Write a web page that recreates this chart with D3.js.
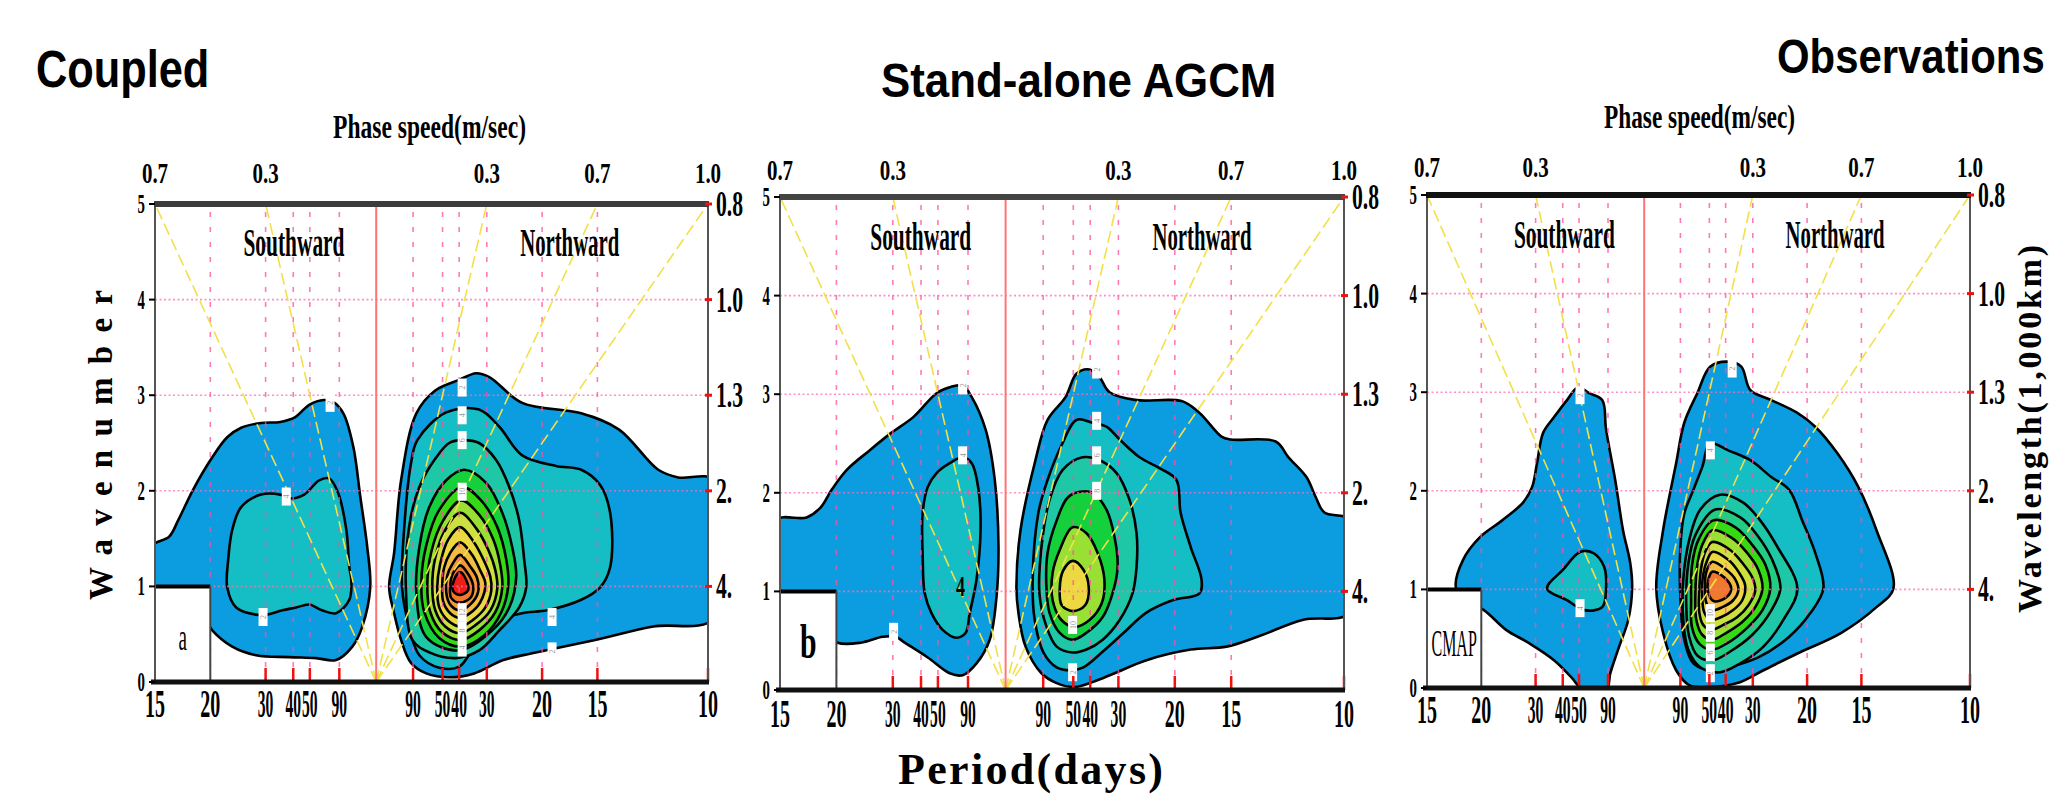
<!DOCTYPE html>
<html><head><meta charset="utf-8">
<script src="https://cdn.jsdelivr.net/npm/d3@7"></script>
<style>body{margin:0;background:#fff}svg{display:block}</style>
</head><body>
<svg id="chart" width="2061" height="794"></svg>
<script>
// ---------------- DATA ----------------
// axis ticks (periods in days; negative side = southward)
const periodsS = [15,20,30,40,50,90];
const periodsN = [90,50,40,30,20,15,10];
const gridS = [20,30,40,50,90];
const gridN = [90,50,40,30,20,15];
const redTickS = [30,40,50,90];
const redTickN = [90,50,40,30,20,15,10];
const phasePeriods = [-15,-30,30,15,10];
const phaseLabels = ["0.7","0.3","0.3","0.7","1.0"];
const kTicks = [0,1,2,3,4,5];
const wavelengthK = [1,2,3,4,5];
const wavelengthLabels = ["4.","2.","1.3","1.0","0.8"];

// contour polygons: [frequency (cpd, <0 southward), wavenumber]
// Panel a (Coupled)
const aS1 = [[-0.068,1.41],[-0.0624,1.52],[-0.0597,1.69],[-0.0552,2.01],[-0.0494,2.35],[-0.0449,2.56],[-0.0407,2.66],[-0.0347,2.71],[-0.0289,2.72],[-0.0244,2.77],[-0.0202,2.90],[-0.0157,2.95],[-0.0130,2.93],[-0.0099,2.81],[-0.0069,2.46],[-0.0048,1.94],[-0.0027,1.41],[-0.0018,0.99],[-0.0042,0.58],[-0.0072,0.37],[-0.0121,0.23],[-0.0181,0.25],[-0.0262,0.26],[-0.0362,0.28],[-0.0434,0.37],[-0.0494,0.54],[-0.0533,0.75],[-0.068,0.86]];
const aS2 = [[-0.0449,0.99],[-0.0446,1.28],[-0.0434,1.59],[-0.0407,1.83],[-0.0347,1.96],[-0.0289,1.96],[-0.0259,1.92],[-0.0217,1.96],[-0.0172,2.11],[-0.0142,2.13],[-0.0115,1.98],[-0.0090,1.59],[-0.0081,1.20],[-0.0075,1.07],[-0.0081,0.86],[-0.0121,0.72],[-0.0163,0.75],[-0.0202,0.81],[-0.0241,0.78],[-0.0283,0.75],[-0.0344,0.70],[-0.0422,0.78]];
const aN1 = [[0.0250,3.16],[0.0301,3.23],[0.0341,3.19],[0.0440,2.92],[0.0618,2.81],[0.0732,2.64],[0.0850,2.22],[0.0910,2.14],[0.102,2.11],[0.102,0.67],[0.0835,0.58],[0.0660,0.44],[0.0470,0.30],[0.0383,0.23],[0.0295,0.09],[0.0223,0.05],[0.0151,0.09],[0.0105,0.20],[0.0075,0.44],[0.0054,0.72],[0.0039,0.99],[0.0054,1.35],[0.0075,2.11],[0.0121,2.81],[0.0178,3.05]];
const aN2 = [[0.0124,2.53],[0.0211,2.82],[0.0310,2.85],[0.0371,2.67],[0.0440,2.37],[0.0542,2.26],[0.0618,2.22],[0.0675,2.06],[0.0705,1.77],[0.0705,1.20],[0.0675,0.99],[0.0618,0.86],[0.0515,0.75],[0.0440,0.72],[0.0353,0.62],[0.0295,0.37],[0.0250,0.16],[0.0190,0.15],[0.0130,0.28],[0.0099,0.58],[0.0078,0.99],[0.0084,1.59],[0.0105,2.29]];
const aN3 = [[0.0259,2.53],[0.0310,2.50],[0.0362,2.32],[0.0401,2.04],[0.0431,1.69],[0.0446,1.28],[0.0452,0.99],[0.0431,0.78],[0.0371,0.54],[0.0310,0.33],[0.0241,0.25],[0.0160,0.31],[0.0109,0.44],[0.0090,0.93],[0.0099,1.62],[0.0130,2.04],[0.0181,2.35],[0.0220,2.50]];
const aN4 = [[0.0265,2.22],[0.0332,2.08],[0.0380,1.77],[0.0410,1.41],[0.0422,1.10],[0.0401,0.78],[0.0350,0.54],[0.0250,0.33],[0.0151,0.47],[0.0121,0.93],[0.0130,1.41],[0.0160,1.83],[0.0211,2.11]];
const aN5 = [[0.0259,2.04],[0.0316,1.90],[0.0365,1.62],[0.0392,1.28],[0.0398,1.01],[0.0377,0.73],[0.0326,0.49],[0.0256,0.37],[0.0190,0.46],[0.0145,0.73],[0.0136,1.04],[0.0151,1.43],[0.0190,1.80]];
const aN6 = [[0.0256,1.90],[0.0310,1.75],[0.0353,1.49],[0.0374,1.22],[0.0380,0.99],[0.0359,0.73],[0.0310,0.54],[0.0256,0.44],[0.0199,0.52],[0.0163,0.73],[0.0154,1.01],[0.0166,1.36],[0.0202,1.69]];
const aN7 = [[0.0253,1.77],[0.0301,1.61],[0.0338,1.38],[0.0359,1.17],[0.0365,0.98],[0.0344,0.75],[0.0301,0.60],[0.0253,0.51],[0.0208,0.58],[0.0178,0.75],[0.0169,0.99],[0.0178,1.30],[0.0208,1.59]];
const aN8 = [[0.0253,1.62],[0.0295,1.46],[0.0326,1.26],[0.0344,1.10],[0.0347,0.96],[0.0329,0.78],[0.0292,0.65],[0.0253,0.58],[0.0217,0.64],[0.0190,0.78],[0.0184,0.99],[0.0193,1.24],[0.0217,1.49]];
const aN9 = [[0.0253,1.46],[0.0289,1.33],[0.0313,1.17],[0.0329,1.03],[0.0313,0.83],[0.0283,0.72],[0.0253,0.67],[0.0223,0.72],[0.0202,0.84],[0.0199,1.01],[0.0205,1.20],[0.0223,1.35]];
const aN10 = [[0.0253,1.33],[0.0283,1.21],[0.0304,1.09],[0.0307,0.94],[0.0286,0.82],[0.0253,0.75],[0.0223,0.81],[0.0211,0.94],[0.0214,1.11],[0.0229,1.23]];
const aN11 = [[0.0253,1.22],[0.0277,1.13],[0.0292,1.01],[0.0286,0.89],[0.0253,0.83],[0.0226,0.88],[0.0223,1.01],[0.0232,1.14]];
const aN12 = [[0.0253,1.15],[0.0271,1.07],[0.0277,0.96],[0.0253,0.91],[0.0232,0.95],[0.0235,1.07]];

// Panel b (Stand-alone AGCM)
const bS1 = [[-0.068,1.72],[-0.0588,1.75],[-0.0547,1.85],[-0.0514,2.03],[-0.0470,2.23],[-0.0402,2.43],[-0.0337,2.61],[-0.0272,2.77],[-0.0204,3.01],[-0.0165,3.07],[-0.0127,3.09],[-0.0100,2.97],[-0.0059,2.64],[-0.0032,2.13],[-0.0021,1.45],[-0.0027,0.94],[-0.0047,0.51],[-0.0086,0.27],[-0.0127,0.15],[-0.0165,0.17],[-0.0230,0.33],[-0.0298,0.48],[-0.0325,0.54],[-0.0363,0.54],[-0.0428,0.48],[-0.0496,0.48],[-0.0535,0.61],[-0.068,0.81]];
const bS2 = [[-0.0127,2.36],[-0.0165,2.30],[-0.0204,2.20],[-0.0230,2.06],[-0.0245,1.80],[-0.0245,1.35],[-0.0239,0.98],[-0.0219,0.78],[-0.0186,0.61],[-0.0145,0.53],[-0.0118,0.58],[-0.0106,0.78],[-0.0086,1.12],[-0.0074,1.62],[-0.0080,2.03],[-0.0100,2.30]];
const bN1 = [[0.0177,2.97],[0.0210,3.21],[0.0248,3.25],[0.0278,3.17],[0.0307,3.02],[0.0387,2.94],[0.0520,2.93],[0.0573,2.81],[0.0638,2.57],[0.0665,2.54],[0.0798,2.52],[0.0836,2.36],[0.0889,2.16],[0.0916,1.96],[0.0942,1.80],[0.102,1.72],[0.102,0.79],[0.0877,0.71],[0.0744,0.54],[0.0653,0.44],[0.0547,0.41],[0.0414,0.30],[0.0322,0.17],[0.0257,0.08],[0.0204,0.03],[0.0151,0.07],[0.0106,0.17],[0.0059,0.44],[0.0038,0.78],[0.0032,1.04],[0.0044,1.62],[0.0086,2.30],[0.0124,2.74]];
const bN2 = [[0.0165,2.48],[0.0210,2.74],[0.0257,2.71],[0.0298,2.67],[0.0337,2.54],[0.0396,2.36],[0.0455,2.25],[0.0505,2.13],[0.0517,1.80],[0.0547,1.45],[0.0579,1.12],[0.0573,0.98],[0.0493,0.91],[0.0414,0.78],[0.0349,0.58],[0.0284,0.38],[0.0230,0.23],[0.0192,0.20],[0.0151,0.23],[0.0112,0.38],[0.0086,0.71],[0.0080,1.12],[0.0097,1.80],[0.0124,2.13]];
const bN3 = [[0.0227,2.36],[0.0278,2.33],[0.0328,2.20],[0.0366,1.93],[0.0387,1.59],[0.0387,1.25],[0.0375,0.98],[0.0337,0.71],[0.0287,0.51],[0.0239,0.41],[0.0198,0.38],[0.0151,0.44],[0.0121,0.64],[0.0100,0.98],[0.0106,1.45],[0.0130,1.93],[0.0168,2.23]];
const bN4 = [[0.0219,2.01],[0.0257,2.00],[0.0298,1.83],[0.0322,1.55],[0.0331,1.25],[0.0316,0.98],[0.0287,0.74],[0.0239,0.58],[0.0198,0.51],[0.0160,0.58],[0.0130,0.78],[0.0121,1.01],[0.0124,1.39],[0.0151,1.72],[0.0183,1.95]];
const bN5 = [[0.0198,1.65],[0.0239,1.59],[0.0272,1.39],[0.0292,1.12],[0.0284,0.88],[0.0248,0.71],[0.0204,0.64],[0.0165,0.71],[0.0139,0.91],[0.0139,1.19],[0.0160,1.42]];
const bN6 = [[0.0198,1.31],[0.0230,1.22],[0.0246,1.03],[0.0235,0.86],[0.0200,0.80],[0.0166,0.86],[0.0160,1.03],[0.0170,1.21]];

// Panel c (Observations, CMAP)
const cS1 = [[-0.0203,3.05],[-0.0169,2.99],[-0.0129,2.92],[-0.0117,2.62],[-0.0089,2.11],[-0.0065,1.60],[-0.0043,1.27],[-0.0037,1.02],[-0.0049,0.69],[-0.0077,0.42],[-0.0104,0.15],[-0.0117,-0.03],[-0.0184,-0.03],[-0.0224,0.11],[-0.0276,0.28],[-0.0356,0.46],[-0.0424,0.59],[-0.0492,0.79],[-0.0550,0.89],[-0.0578,1.02],[-0.0556,1.30],[-0.0504,1.53],[-0.0436,1.70],[-0.0372,1.88],[-0.0344,2.04],[-0.0329,2.28],[-0.0310,2.59],[-0.0276,2.75],[-0.0237,2.92]];
const cS2 = [[-0.0298,1.01],[-0.0249,1.20],[-0.0197,1.38],[-0.0157,1.37],[-0.0123,1.23],[-0.0117,1.02],[-0.0129,0.82],[-0.0184,0.79],[-0.0237,0.89]];
const cN1 = [[0.0203,3.26],[0.0258,3.31],[0.0298,3.26],[0.0326,3.02],[0.0390,2.92],[0.0470,2.79],[0.0525,2.65],[0.0593,2.38],[0.0657,2.04],[0.0713,1.60],[0.0765,1.01],[0.0713,0.82],[0.0605,0.56],[0.0470,0.35],[0.0366,0.18],[0.0286,0.05],[0.0203,0.01],[0.0138,0.03],[0.0098,0.18],[0.0058,0.56],[0.0037,1.02],[0.0058,1.60],[0.0098,2.28],[0.0123,2.69],[0.0163,2.99]];
const cN2 = [[0.0203,2.48],[0.0258,2.41],[0.0326,2.31],[0.0390,2.14],[0.0445,2.01],[0.0485,1.70],[0.0525,1.37],[0.0550,1.01],[0.0510,0.76],[0.0445,0.52],[0.0350,0.31],[0.0258,0.21],[0.0203,0.18],[0.0151,0.25],[0.0123,0.49],[0.0111,0.92],[0.0111,1.43],[0.0123,1.77],[0.0151,2.01],[0.0178,2.24]];
const cN3 = [[0.0233,1.96],[0.0304,1.88],[0.0356,1.70],[0.0409,1.43],[0.0470,1.01],[0.0427,0.69],[0.0366,0.42],[0.0295,0.25],[0.0233,0.16],[0.0172,0.21],[0.0135,0.39],[0.0120,0.69],[0.0120,1.10],[0.0138,1.50],[0.0172,1.81]];
const cN4 = [[0.0218,1.81],[0.0295,1.73],[0.0347,1.55],[0.0393,1.30],[0.0418,1.01],[0.0387,0.77],[0.0332,0.54],[0.0264,0.37],[0.0209,0.28],[0.0163,0.33],[0.0138,0.52],[0.0129,0.84],[0.0135,1.25],[0.0157,1.55]];
const cN5 = [[0.0212,1.70],[0.0280,1.63],[0.0332,1.45],[0.0372,1.25],[0.0387,1.01],[0.0363,0.79],[0.0316,0.61],[0.0258,0.46],[0.0209,0.39],[0.0172,0.44],[0.0147,0.61],[0.0144,0.89],[0.0147,1.25],[0.0166,1.50]];
const cN6 = [[0.0209,1.60],[0.0270,1.52],[0.0316,1.37],[0.0350,1.20],[0.0363,1.01],[0.0341,0.82],[0.0301,0.67],[0.0252,0.56],[0.0209,0.49],[0.0178,0.54],[0.0160,0.69],[0.0157,0.94],[0.0163,1.25],[0.0178,1.45]];
const cN7 = [[0.0209,1.48],[0.0264,1.40],[0.0301,1.27],[0.0332,1.12],[0.0341,0.99],[0.0320,0.84],[0.0286,0.72],[0.0243,0.64],[0.0206,0.59],[0.0181,0.64],[0.0169,0.77],[0.0169,0.99],[0.0175,1.22],[0.0187,1.38]];
const cN8 = [[0.0209,1.38],[0.0258,1.30],[0.0289,1.18],[0.0310,1.04],[0.0301,0.89],[0.0273,0.79],[0.0237,0.72],[0.0203,0.69],[0.0184,0.77],[0.0178,0.94],[0.0181,1.15],[0.0194,1.30]];
const cN9 = [[0.0209,1.28],[0.0252,1.20],[0.0280,1.10],[0.0289,0.99],[0.0273,0.89],[0.0240,0.82],[0.0206,0.79],[0.0190,0.87],[0.0187,1.01],[0.0190,1.17]];
const cN10 = [[0.0209,1.18],[0.0246,1.12],[0.0267,1.01],[0.0252,0.92],[0.0215,0.88],[0.0197,0.96],[0.0197,1.10]];

// contour label boxes [freq, wavenumber, text]
const aLabels = [[0.0259,3.08,"2"],[0.0259,2.79,"4"],[0.0259,2.53,"6"],[0.0259,1.99,"10"],[0.0259,0.73,"12"],[0.0259,0.54,"8"],[0.0259,0.36,"4"],[-0.0271,1.94,"4"],[-0.0341,0.68,"2"],[-0.0139,2.92,"2"],[0.0530,0.68,"4"],[0.0530,0.32,"2"]];
const bLabels = [[0.0269,3.25,"2"],[0.0269,2.73,"4"],[0.0269,2.38,"6"],[0.0269,2.02,"8"],[0.0198,0.66,"10"],[0.0198,0.18,"2"],[-0.0127,2.38,"4"],[-0.0331,0.59,"2"],[-0.0127,3.09,"2"]];
const cLabels = [[0.0270,3.24,"2"],[0.0203,2.41,"4"],[0.0203,0.76,"10"],[0.0203,0.56,"8"],[0.0203,0.36,"6"],[0.0203,0.15,"2"],[-0.0197,2.97,"2"],[-0.0197,0.81,"4"]];

// colours of the shaded levels
const C = {blue:"#0c9de0", teal:"#14bec4", tgreen:"#1ec8a6", sgreen:"#22cc82", green:"#14d03c",
  bgreen:"#36da14", ygreen:"#9ae034", lyg:"#cce040", yellow:"#ecd840", yorange:"#f2bc40",
  orange:"#f29a36", dorange:"#f07a2c", red:"#ee2016"};

// ---------------- DRAWING ----------------
const svg = d3.select("#chart");
const SERIF = "'Liberation Serif','Times New Roman',serif";
const SANS = "'Liberation Sans',Arial,sans-serif";
svg.append("rect").attr("width",2061).attr("height",794).attr("fill","#fff");

function sText(g, x, y, s, size, sx, anchor, weight, fam) {
  return g.append("text").attr("transform",`translate(${x},${y}) scale(${sx},1)`)
    .attr("text-anchor",anchor).attr("font-family",fam||SERIF).attr("font-size",size)
    .attr("font-weight",weight||"bold").attr("fill","#000").text(s);
}
function lText(g, x, y, s, size, len, fam, weight, adj) {
  return g.append("text").attr("x",x).attr("y",y).attr("font-family",fam).attr("font-size",size)
    .attr("font-weight",weight).attr("textLength",len).attr("lengthAdjust",adj||"spacingAndGlyphs")
    .attr("fill","#000").text(s);
}
const narrow = new Set([30,40,50,90]);

const panels = [
  {id:"a", x0:155, x1:708, y0:682, y1:204, topGap:21, botGap:35,
   south:[[aS1,C.blue],[aS2,C.teal]],
   north:[[aN1,C.blue],[aN2,C.teal],[aN3,C.tgreen],[aN4,C.green],[aN5,C.bgreen],[aN6,C.ygreen],[aN7,C.lyg],[aN8,C.yellow],[aN9,C.yorange],[aN10,C.orange],[aN11,C.dorange],[aN12,C.red]],
   labels:aLabels, inset:"a", insetSize:38, insetSx:0.5, insetW:"normal", topColor:"#3c3c3c"},
  {id:"b", x0:780, x1:1344, y0:690, y1:197, topGap:17, botGap:37,
   south:[[bS1,C.blue],[bS2,C.teal]],
   north:[[bN1,C.blue],[bN2,C.teal],[bN3,C.tgreen],[bN4,C.green],[bN5,C.ygreen],[bN6,C.yellow]],
   labels:bLabels, inset:"b", insetSize:48, insetSx:0.62, insetW:"bold", topColor:"#444"},
  {id:"c", x0:1427, x1:1970, y0:688, y1:195, topGap:18, botGap:35,
   south:[[cS1,C.blue],[cS2,C.teal]],
   north:[[cN1,C.blue],[cN2,C.teal],[cN3,C.tgreen],[cN4,C.sgreen],[cN5,C.bgreen],[cN6,C.ygreen],[cN7,C.lyg],[cN8,C.yellow],[cN9,C.yorange],[cN10,C.dorange]],
   labels:cLabels, inset:"CMAP", insetSize:38, insetSx:0.42, insetW:"normal", topColor:"#111"}
];

const defs = svg.append("defs");

panels.forEach(p => {
  const g = svg.append("g");
  const x = d3.scaleLinear().domain([-1/15, 1/10]).range([p.x0, p.x1]);
  const y = d3.scaleLinear().domain([0, 5]).range([p.y0, p.y1]);
  defs.append("clipPath").attr("id","clip"+p.id).append("rect")
    .attr("x",p.x0).attr("y",p.y1).attr("width",p.x1-p.x0).attr("height",p.y0-p.y1);
  const plot = g.append("g").attr("clip-path",`url(#clip${p.id})`);
  const line = d3.line().x(d=>x(d[0])).y(d=>y(d[1])).curve(d3.curveCatmullRomClosed.alpha(0.5));

  // filled contours
  [p.south, p.north].forEach(side => side.forEach(([pts,col]) => {
    plot.append("path").attr("d", line(pts)).attr("fill", col)
      .attr("stroke","#000").attr("stroke-width",2.6).attr("stroke-linejoin","round");
  }));

  // vertical pink dashed grid
  const vf = gridS.map(d=>-1/d).concat(gridN.map(d=>1/d));
  plot.selectAll(".vg").data(vf).join("line")
    .attr("x1",d=>x(d)).attr("x2",d=>x(d)).attr("y1",y(0)).attr("y2",y(5))
    .attr("stroke","#ff4fa0").attr("stroke-width",1.6).attr("stroke-dasharray","5,10").attr("opacity",0.75);
  // horizontal pink dotted grid
  plot.selectAll(".hg").data([1,2,3,4]).join("line")
    .attr("x1",p.x0).attr("x2",p.x1).attr("y1",d=>y(d)).attr("y2",d=>y(d))
    .attr("stroke","#ff6cb4").attr("stroke-width",1.6).attr("stroke-dasharray","2,2.5").attr("opacity",0.75);
  // phase-speed lines (yellow dashed) from origin
  plot.selectAll(".ph").data(phasePeriods).join("line")
    .attr("x1",x(0)).attr("y1",y(0)).attr("x2",d=>x(1/d)).attr("y2",y(5))
    .attr("stroke","#f2e04a").attr("stroke-width",1.6).attr("stroke-dasharray","12,5");
  // zero-frequency line
  plot.append("line").attr("x1",x(0)).attr("x2",x(0)).attr("y1",y(0)).attr("y2",y(5))
    .attr("stroke","#ff7474").attr("stroke-width",2);

  // contour label boxes
  const lb = plot.selectAll(".lb").data(p.labels).join("g")
    .attr("transform",d=>`translate(${x(d[0])},${y(d[1])})`);
  lb.append("rect").attr("x",-4.5).attr("y",-9).attr("width",9).attr("height",18).attr("fill","#fff");
  lb.append("text").attr("transform","rotate(-90)").attr("text-anchor","middle").attr("dy",3)
    .attr("font-family",SERIF).attr("font-size",8).attr("fill","#999").text(d=>d[2]);

  // bottom red ticks
  const rt = redTickS.map(d=>-1/d).concat(redTickN.map(d=>1/d));
  g.selectAll(".rt").data(rt).join("line")
    .attr("x1",d=>x(d)).attr("x2",d=>x(d)).attr("y1",y(0)).attr("y2",y(0)-14)
    .attr("stroke","#f01010").attr("stroke-width",2.5);

  // inset box
  const ix = x(-1/20);
  g.append("rect").attr("x",p.x0).attr("y",y(1)).attr("width",ix-p.x0).attr("height",y(0)-y(1)).attr("fill","#fff");
  g.append("line").attr("x1",p.x0).attr("x2",ix).attr("y1",y(1)).attr("y2",y(1)).attr("stroke","#000").attr("stroke-width",4);
  g.append("line").attr("x1",ix).attr("x2",ix).attr("y1",y(1)).attr("y2",y(0)).attr("stroke","#444").attr("stroke-width",2);
  sText(g, (p.x0+ix)/2, y(0)-32, p.inset, p.insetSize, p.insetSx, "middle", p.insetW);

  // frame
  g.append("line").attr("x1",p.x0).attr("x2",p.x0).attr("y1",p.y0).attr("y2",p.y1).attr("stroke","#555").attr("stroke-width",2);
  g.append("line").attr("x1",p.x1).attr("x2",p.x1).attr("y1",p.y0).attr("y2",p.y1).attr("stroke","#555").attr("stroke-width",2);
  g.append("line").attr("x1",p.x0-1).attr("x2",p.x1+1).attr("y1",p.y1).attr("y2",p.y1).attr("stroke",p.topColor).attr("stroke-width",6);
  g.append("line").attr("x1",p.x0-4).attr("x2",p.x1+1).attr("y1",p.y0).attr("y2",p.y0).attr("stroke","#111").attr("stroke-width",5);

  // left axis
  g.selectAll(".lt").data(kTicks).join("line")
    .attr("x1",p.x0-6).attr("x2",p.x0).attr("y1",d=>y(d)).attr("y2",d=>y(d)).attr("stroke","#000").attr("stroke-width",2);
  kTicks.forEach(k => sText(g, p.x0-10, y(k)+9, String(k), 27, 0.55, "end"));
  // right axis (wavelength)
  g.selectAll(".rtk").data(wavelengthK).join("line")
    .attr("x1",p.x1-3).attr("x2",p.x1+4).attr("y1",d=>y(d)).attr("y2",d=>y(d)).attr("stroke","#f01010").attr("stroke-width",3);
  wavelengthK.forEach((k,i) => sText(g, p.x1+8, y(k)+12, wavelengthLabels[i], 35, 0.62, "start"));
  // bottom period labels
  periodsS.forEach(d => sText(g, x(-1/d), p.y0+p.botGap, String(d), 40, narrow.has(d)?0.39:0.5, "middle"));
  periodsN.forEach(d => sText(g, x(1/d), p.y0+p.botGap, String(d), 40, narrow.has(d)?0.39:0.5, "middle"));
  // top phase-speed labels
  phasePeriods.forEach((d,i) => sText(g, x(1/d), p.y1-p.topGap, phaseLabels[i], 30, 0.7, "middle"));
  // Southward / Northward
  lText(g, x(-0.040), y(4.46), "Southward", 40, 101, SERIF, "bold");
  lText(g, x(0.0434), y(4.46), "Northward", 40, 99, SERIF, "bold");
  if (p.id === "b") sText(g, x(-0.0133), y(1.05)+10, "4", 30, 0.6, "middle");
});

// titles and axis titles
sText(svg, 36, 87, "Coupled", 51, 0.85, "start", "bold", SANS);
sText(svg, 881, 97, "Stand-alone AGCM", 49, 0.895, "start", "bold", SANS);
sText(svg, 1777, 73, "Observations", 49, 0.855, "start", "bold", SANS);
lText(svg, 333, 138, "Phase speed(m/sec)", 34, 193, SERIF, "bold");
lText(svg, 1604, 128, "Phase speed(m/sec)", 34, 191, SERIF, "bold");
lText(svg, 898, 784, "Period(days)", 44, 265, SERIF, "bold", "spacing");
svg.append("text").attr("transform","translate(112,600) rotate(-90)")
  .attr("font-family",SERIF).attr("font-size",33).attr("font-weight","bold")
  .attr("textLength",310).attr("lengthAdjust","spacing").text("Wavenumber");
svg.append("text").attr("transform","translate(2041,613) rotate(-90)")
  .attr("font-family",SERIF).attr("font-size",34).attr("font-weight","bold")
  .attr("textLength",368).attr("lengthAdjust","spacing").text("Wavelength(1,000km)");
</script>
</body></html>
